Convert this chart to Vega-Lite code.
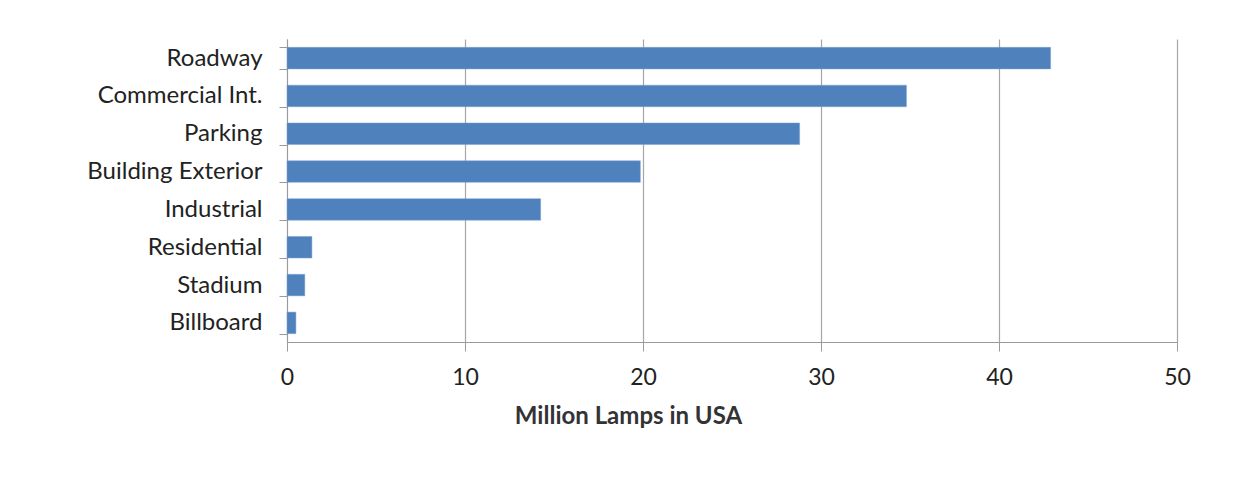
{
  "$schema": "https://vega.github.io/schema/vega-lite/v6.json",
  "width": 890,
  "height": 303,
  "autosize": {"type": "none"},
  "padding": {"left": 287, "top": 39, "right": 67, "bottom": 135},
  "background": "white",
  "data": {"values": [
    {"category": "Roadway", "lamps": 42.9},
    {"category": "Commercial Int.", "lamps": 34.8},
    {"category": "Parking", "lamps": 28.8},
    {"category": "Building Exterior", "lamps": 19.85},
    {"category": "Industrial", "lamps": 14.25},
    {"category": "Residential", "lamps": 1.4},
    {"category": "Stadium", "lamps": 1.0},
    {"category": "Billboard", "lamps": 0.5}
  ]},
  "mark": {"type": "bar", "color": "#4F81BD", "stroke": "#7fa3d0", "strokeWidth": 0.5},
  "encoding": {
    "y": {
      "field": "category", "type": "nominal", "sort": null,
      "scale": {"paddingInner": 0.43, "paddingOuter": 0.22},
      "axis": {
        "title": null, "tickBand": "extent", "tickSize": 8, "tickColor": "#9a9a9a",
        "domainColor": "#9a9a9a", "labelPadding": 17, "labelFont": "Lato",
        "labelFontSize": 24, "labelColor": "#222222", "grid": false
      }
    },
    "x": {
      "field": "lamps", "type": "quantitative",
      "scale": {"domain": [0, 50], "nice": false},
      "axis": {
        "title": "Million Lamps in USA", "values": [0, 10, 20, 30, 40, 50],
        "tickSize": 9, "tickColor": "#9a9a9a", "domainColor": "#9a9a9a",
        "gridColor": "#a6a6a6", "gridWidth": 1.2, "labelFlush": false,
        "labelFont": "Lato", "labelFontSize": 23, "labelColor": "#222222", "labelPadding": 15,
        "titleFont": "Lato", "titleFontSize": 24, "titleFontWeight": "bold", "titleColor": "#333333",
        "titleX": 341, "titleY": 62, "titleAlign": "center"
      }
    }
  },
  "config": {"view": {"stroke": null}}
}
